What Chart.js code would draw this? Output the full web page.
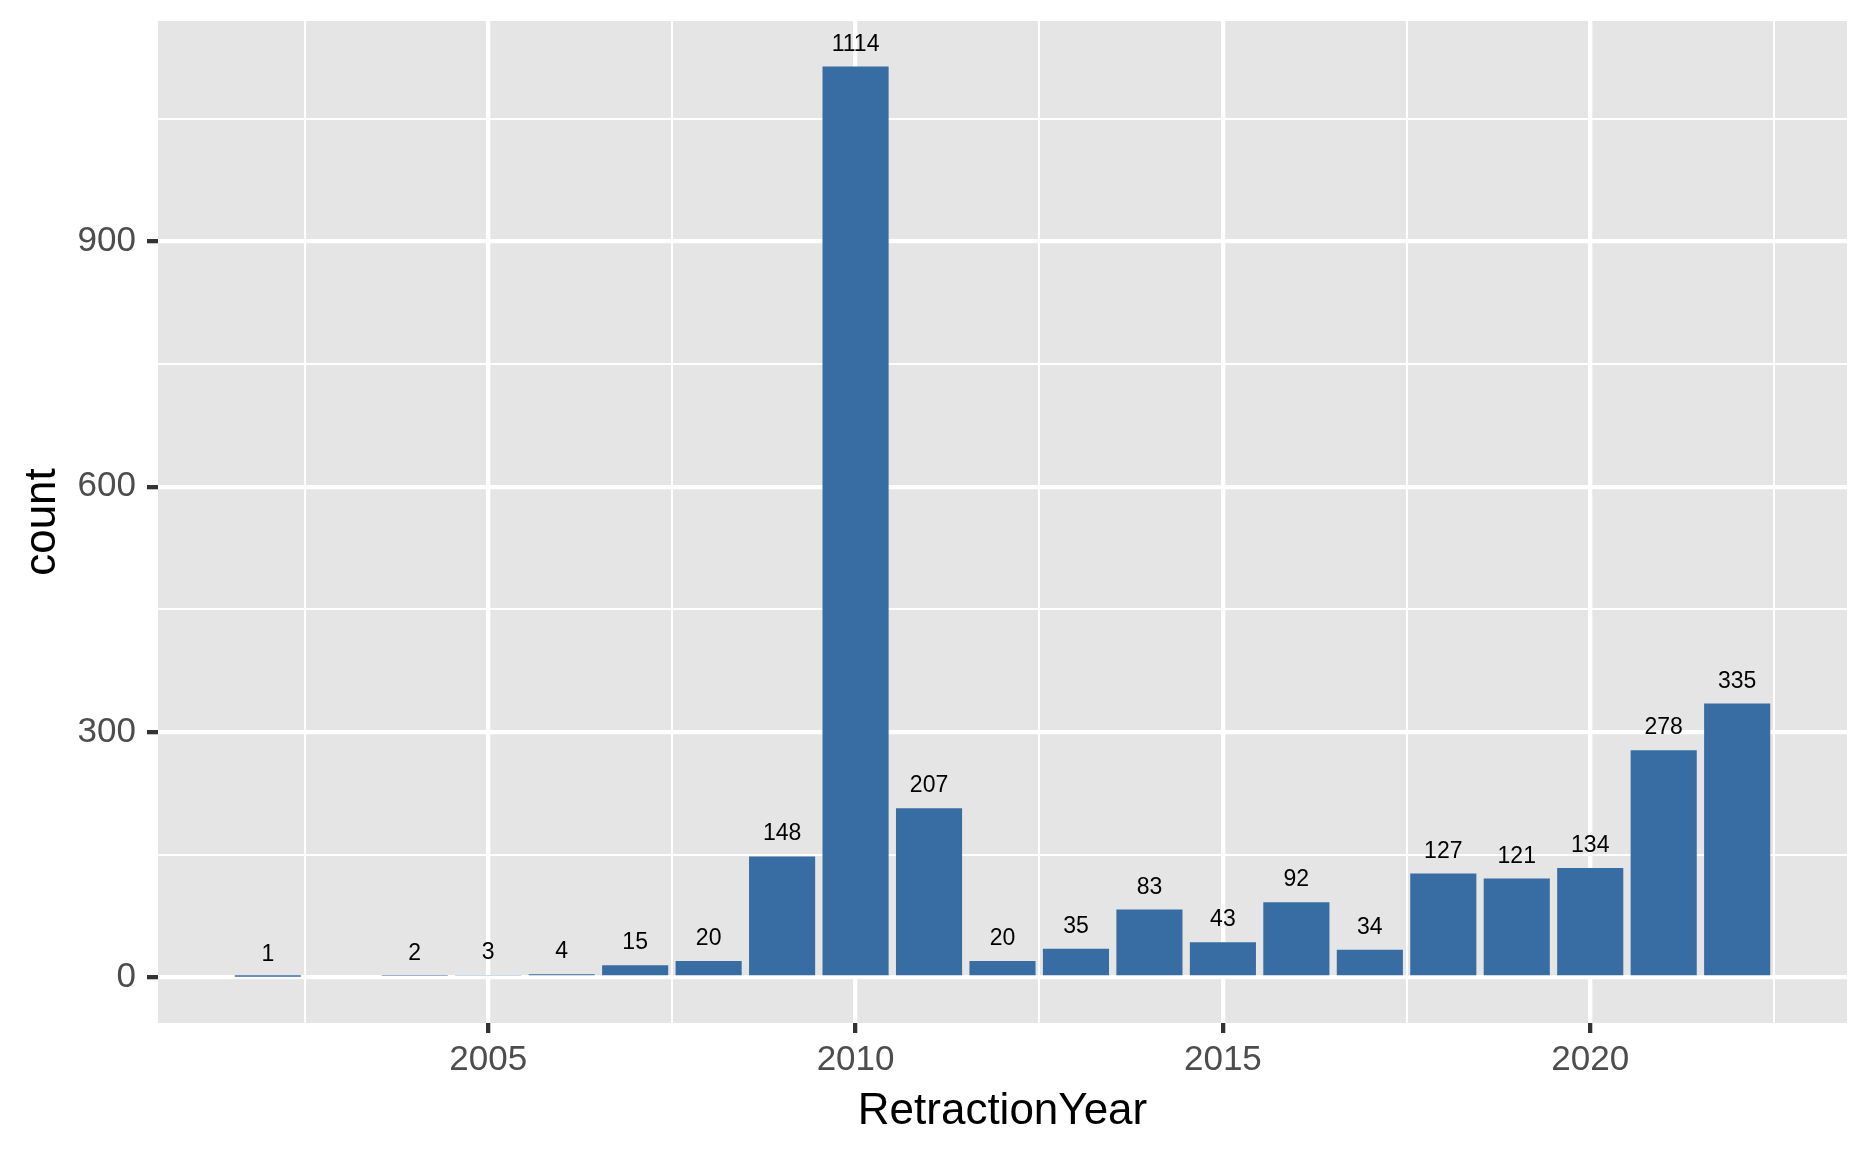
<!DOCTYPE html>
<html lang="en">
<head>
    <meta charset="UTF-8">
    <title>RetractionYear count</title>
    <script src="https://cdn.jsdelivr.net/npm/chart.js"></script>
    <style>
        body {
            margin: 0;
            background-color: white;
        }
        canvas {
            display: block;
        }
    </style>
</head>
<body>

    <canvas id="grafica" width="1868" height="1154"></canvas>

    <script>
        // data (2003 has no bar)
        const years = [2002, 2004, 2005, 2006, 2007, 2008, 2009, 2010, 2011, 2012, 2013,
                       2014, 2015, 2016, 2017, 2018, 2019, 2020, 2021, 2022];
        const counts = [1, 2, 3, 4, 15, 20, 148, 1114, 207, 20, 35,
                        83, 43, 92, 34, 127, 121, 134, 278, 335];

        const xTicks = [2002.5, 2005, 2007.5, 2010, 2012.5, 2015, 2017.5, 2020, 2022.5];
        const yTicks = [0, 150, 300, 450, 600, 750, 900, 1050];

        const fuente = "Arial, 'Liberation Sans', Helvetica, sans-serif";

        // panel background like ggplot's grey theme
        const fondoPanel = {
            id: 'fondoPanel',
            beforeDraw(chart) {
                const ctx = chart.ctx;
                const a = chart.chartArea;
                ctx.save();
                ctx.fillStyle = 'white';
                ctx.fillRect(0, 0, chart.width, chart.height);
                ctx.fillStyle = '#E5E5E5';
                ctx.fillRect(a.left, a.top, a.right - a.left, a.bottom - a.top);
                ctx.restore();
            }
        };

        // value labels over each bar
        const etiquetas = {
            id: 'etiquetas',
            afterDatasetsDraw(chart) {
                const ctx = chart.ctx;
                const meta = chart.getDatasetMeta(0);
                ctx.save();
                ctx.fillStyle = 'black';
                ctx.font = '23px ' + fuente;
                ctx.textAlign = 'center';
                ctx.textBaseline = 'alphabetic';
                meta.data.forEach((bar, i) => {
                    ctx.fillText(String(counts[i]), bar.x, bar.y - 16);
                });
                ctx.restore();
            }
        };

        const esMayorX = c => !!c.tick && c.tick.value % 5 === 0;
        const esMayorY = c => !!c.tick && c.tick.value % 300 === 0;

        const ctx = document.getElementById('grafica').getContext('2d');
        new Chart(ctx, {
            type: 'bar',
            data: {
                datasets: [{
                    data: years.map((y, i) => ({ x: y, y: counts[i] })),
                    backgroundColor: '#386DA4',
                    borderWidth: 0,
                    barPercentage: 0.9,
                    categoryPercentage: 1.0
                }]
            },
            options: {
                responsive: false,
                animation: false,
                devicePixelRatio: 1,
                layout: { padding: { top: 21, right: 21, left: 0, bottom: 0 } },
                plugins: {
                    legend: { display: false },
                    tooltip: { enabled: false }
                },
                scales: {
                    x: {
                        type: 'linear',
                        min: 2000.505,
                        max: 2023.495,
                        offset: false,
                        afterBuildTicks: s => { s.ticks = xTicks.map(v => ({ value: v })); },
                        afterFit: s => {
                            s.height = 131;
                            s.paddingLeft = 0;
                            s.paddingRight = 0;
                        },
                        border: { display: false },
                        grid: {
                            offset: false,
                            color: 'white',
                            lineWidth: c => esMayorX(c) ? 4.3 : 2,
                            tickColor: c => esMayorX(c) ? '#333333' : 'rgba(0,0,0,0)',
                            tickWidth: 4.3,
                            tickLength: 10
                        },
                        ticks: {
                            autoSkip: false,
                            maxRotation: 0,
                            padding: 6,
                            color: '#4D4D4D',
                            font: { family: fuente, size: 35 },
                            callback: v => v % 5 === 0 ? String(v) : ''
                        },
                        title: {
                            display: true,
                            text: 'RetractionYear',
                            color: 'black',
                            font: { family: fuente, size: 44 },
                            padding: { top: 0, bottom: 16 }
                        }
                    },
                    y: {
                        type: 'linear',
                        min: -55.7,
                        max: 1169.7,
                        afterBuildTicks: s => { s.ticks = yTicks.map(v => ({ value: v })); },
                        afterFit: s => {
                            s.width = 158;
                            s.paddingTop = 0;
                            s.paddingBottom = 0;
                        },
                        border: { display: false },
                        grid: {
                            color: 'white',
                            lineWidth: c => esMayorY(c) ? 4.3 : 2,
                            tickColor: c => esMayorY(c) ? '#333333' : 'rgba(0,0,0,0)',
                            tickWidth: 4.3,
                            tickLength: 11
                        },
                        ticks: {
                            padding: 11,
                            color: '#4D4D4D',
                            font: { family: fuente, size: 35 },
                            callback: v => v % 300 === 0 ? String(v) : ''
                        },
                        title: {
                            display: true,
                            text: 'count',
                            color: 'black',
                            font: { family: fuente, size: 44 },
                            padding: { top: 16, bottom: 0 }
                        }
                    }
                }
            },
            plugins: [fondoPanel, etiquetas]
        });
    </script>
</body>
</html>
